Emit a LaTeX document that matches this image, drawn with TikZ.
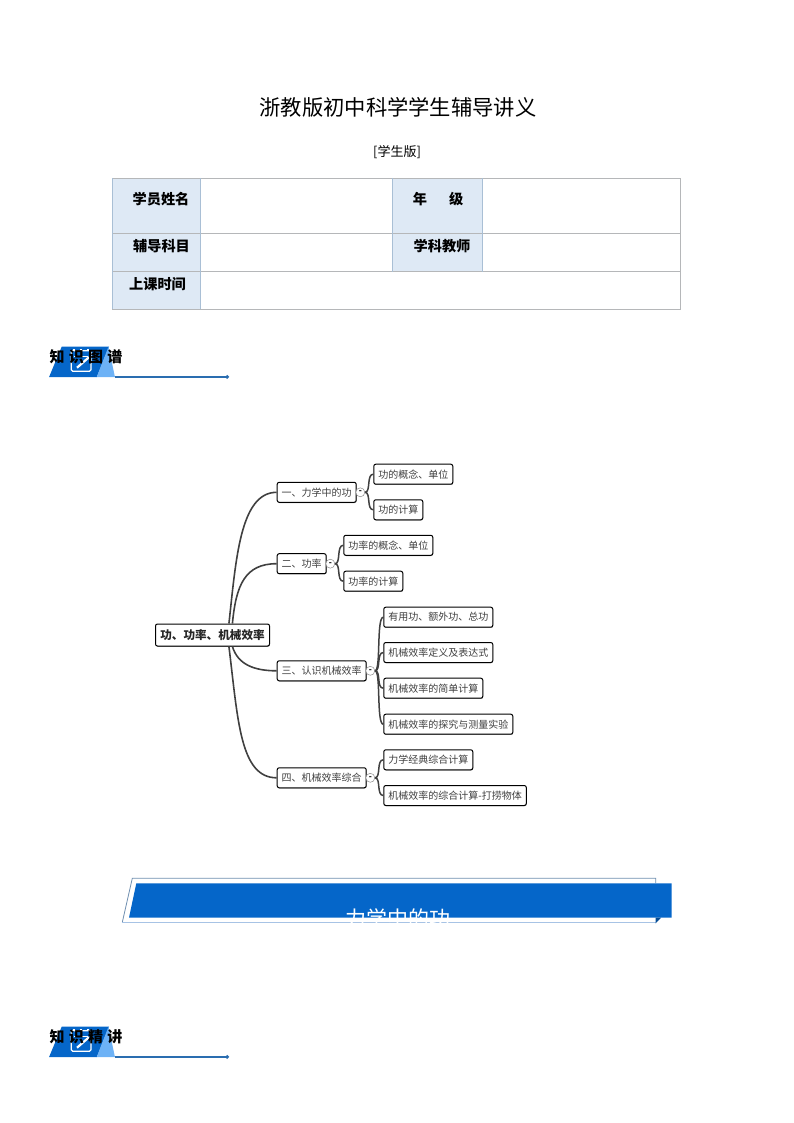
\documentclass[tikz,border=0pt]{standalone}
\usepackage{fontspec}
\usepackage{xcolor}
\usepackage{tikz}
\usetikzlibrary{arrows.meta,shadows}
\setmainfont{Noto Sans CJK SC}
\newfontfamily\headfont[LetterSpace=28]{Noto Sans CJK SC}
\definecolor{cellblue}{HTML}{DEE9F5}
\definecolor{gridgray}{HTML}{B5B7B9}
\definecolor{gridblue}{HTML}{A9BFD5}
\definecolor{bannerblue}{HTML}{0566C9}
\definecolor{paleblue}{HTML}{6DB2F6}
\definecolor{inkline}{HTML}{404040}
\definecolor{ruleblue}{HTML}{2A6DB0}
\definecolor{edgetop}{HTML}{6F8FB0}
\definecolor{edgelow}{HTML}{A7C3E5}
\tikzset{
    rootbox/.style={draw=black,line width=1pt,rounded corners=2pt,fill=white,anchor=west,minimum height=22pt,inner xsep=4.8pt,inner ysep=0pt,font=\fontsize{11.6}{13}\selectfont\bfseries,text=black!85,drop shadow={shadow xshift=0.4pt,shadow yshift=-0.8pt,fill=black!45,opacity=1}},
    mapbox/.style={draw=black,line width=1pt,rounded corners=2pt,fill=white,anchor=west,minimum height=20pt,inner xsep=4.5pt,inner ysep=0pt,font=\fontsize{10}{12}\selectfont,text=black!75,drop shadow={shadow xshift=0.3pt,shadow yshift=-0.7pt,fill=black!40,opacity=1}},
    foldmark/.style={circle,draw=black!45,line width=0.5pt,fill=white,minimum size=9pt,inner sep=0pt,font=\fontsize{8}{8}\selectfont\bfseries},
    limb/.style={draw=inkline,line width=1.6pt},
    twig/.style={draw=inkline,line width=1.5pt},
    celltext/.style={font=\fontsize{14.2}{16}\selectfont\bfseries,text=black,inner sep=0pt},
    headtext/.style={font=\fontsize{15}{17}\selectfont\headfont\bfseries,text=black,inner sep=0pt}
}
\begin{document}
\begin{tikzpicture}[x=1pt,y=-1pt]
    \useasboundingbox (0,0) rectangle (794,1123);

    \node[font=\fontsize{21.3}{24}\selectfont,inner sep=0pt] (title) at (398,107) {浙教版初中科学学生辅导讲义};
    \node[font=\fontsize{13}{15}\selectfont,inner sep=0pt] (edition) at (397,152) {[学生版]};

    \fill[cellblue] (112.5,178) rectangle (200.5,309);
    \fill[cellblue] (392.5,178) rectangle (482.5,271.5);
    \draw[gridgray,line width=0.8pt] (112.5,178) rectangle (680.5,309);
    \draw[gridgray,line width=0.8pt] (112.5,233.5) -- (680.5,233.5);
    \draw[gridgray,line width=0.8pt] (112.5,271.5) -- (680.5,271.5);
    \foreach \colx/\rowend in {112.5/309,200.5/309,392.5/271.5,482.5/271.5}
        \draw[gridblue,line width=0.8pt] (\colx,178) -- (\colx,\rowend);
    \node[celltext] (nameCell) at (161,199) {学员姓名};
    \node[celltext] (gradeCell) at (438,199) {年\hspace{22pt}级};
    \node[celltext] (subjectCell) at (161.5,246) {辅导科目};
    \node[celltext] (teacherCell) at (442,246) {学科教师};
    \node[celltext] (timeCell) at (157.5,284) {上课时间};

    \foreach \topy/\name/\heading in {346.7/mapHead/知识图谱,1026.7/talkHead/知识精讲}{
        \begin{scope}[shift={(0,\topy)}]
            \fill[bannerblue] (49,30.5) -- (61.7,0) -- (109,0) -- (96.7,30.5) -- cycle;
            \fill[paleblue] (96.7,30.5) -- (108.5,0) -- (115,30.5) -- cycle;
            \draw[white,line width=1.3pt,rounded corners=1.5pt] (71.2,4) rectangle (91,24.5);
            \draw[white,line width=1.1pt] (74,10) -- (88,10) (74,4) -- (74,2.5) (81,4) -- (81,2.5) (88,4) -- (88,2.5);
            \draw[white,line width=2.2pt] (77,21) -- (89,10.5);
            \coordinate (\name L) at (115,30.2);
            \coordinate (\name R) at (229,30.2);
            \draw[ruleblue,line width=1.4pt,-{Circle[length=3.6pt,width=3.6pt]}] (\name L) -- (\name R);
            \node[headtext] (\name) at (86,10) {\heading};
        \end{scope}
    }

    \node[rootbox] (root) at (155,635) {功、功率、机械效率};
    \node[mapbox] (work) at (276.7,492.3) {一、力学中的功};
    \node[mapbox] (power) at (276.7,563.7) {二、功率};
    \node[mapbox] (effic) at (276.7,670.8) {三、认识机械效率};
    \node[mapbox] (combo) at (276.7,777.8) {四、机械效率综合};

    \node[foldmark] (workFold) at (360.3,492.3) {-};
    \node[foldmark] (powerFold) at (330.3,563.7) {-};
    \node[foldmark] (efficFold) at (370.3,670.8) {-};
    \node[foldmark] (comboFold) at (370.3,777.8) {-};

    \node[mapbox] (workA) at (373.3,474.2) {功的概念、单位};
    \node[mapbox] (workB) at (373.3,509.8) {功的计算};
    \node[mapbox] (powerA) at (343.3,545.3) {功率的概念、单位};
    \node[mapbox] (powerB) at (343.3,581.2) {功率的计算};
    \node[mapbox] (efficA) at (383.3,617.2) {有用功、额外功、总功};
    \node[mapbox] (efficB) at (383.3,652.5) {机械效率定义及表达式};
    \node[mapbox] (efficC) at (383.3,688.2) {机械效率的简单计算};
    \node[mapbox] (efficD) at (383.3,724.2) {机械效率的探究与测量实验};
    \node[mapbox] (comboA) at (383.3,759.8) {力学经典综合计算};
    \node[mapbox] (comboB) at (383.3,795.5) {机械效率的综合计算-打捞物体};

    \draw[limb] (root.35) .. controls (236,560) and (240,492.3) .. (work.west);
    \draw[limb] (root.30) .. controls (236,585) and (245,563.7) .. (power.west);
    \draw[limb] (root.-30) .. controls (238,665) and (255,670.8) .. (effic.west);
    \draw[limb] (root.-35) .. controls (238,720) and (240,777.8) .. (combo.west);

    \foreach \from/\leaf in {workFold/workA,workFold/workB,powerFold/powerA,powerFold/powerB,efficFold/efficA,efficFold/efficB,efficFold/efficC,efficFold/efficD,comboFold/comboA,comboFold/comboB}
        \draw[twig] (\from.east) .. controls +(6,0) and +(-7,0) .. (\leaf.west);

    \fill[white] (132.3,878.3) -- (655.7,878.3) -- (655.7,922.3) -- (122.3,922.3) -- cycle;
    \draw[edgetop,line width=0.8pt] (655.7,883) -- (655.7,878.3) -- (132.3,878.3) -- (122.3,922.3);
    \draw[edgelow,line width=1pt] (122.3,922.3) -- (655.7,922.3);
    \fill[bannerblue] (136.3,883.3) -- (671.7,883.3) -- (671.7,917.7) -- (129,917.7) -- cycle;
    \fill[bannerblue!75!black] (655.7,917.7) -- (661,917.7) -- (655.7,923.3) -- cycle;
    \node[font=\fontsize{21}{24}\selectfont,text=white,inner sep=0pt] (bannerText) at (398,918) {力学中的功};
\end{tikzpicture}
\end{document}
